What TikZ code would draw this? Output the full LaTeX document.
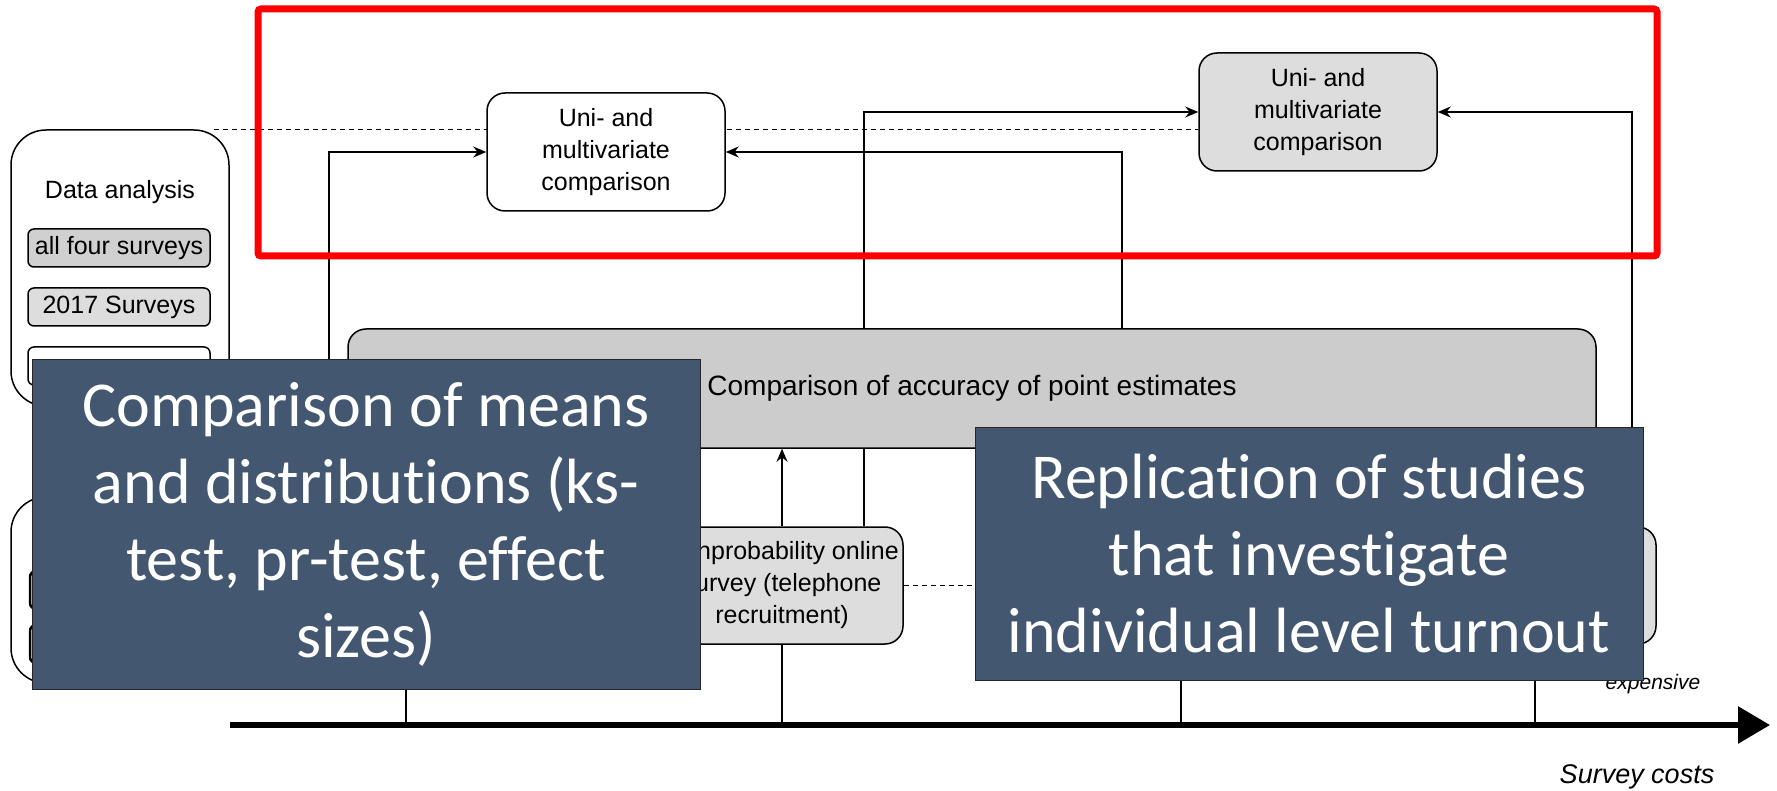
\documentclass[tikz,border=0pt]{standalone}
\usepackage{fontspec}
\setmainfont{Liberation Sans}
\newfontfamily\calibfont[Ligatures=NoCommon]{Carlito}
\usetikzlibrary{arrows.meta,backgrounds}

\definecolor{slate}{HTML}{435770}
\definecolor{boxgray}{HTML}{DDDDDD}
\definecolor{accgray}{HTML}{CCCCCC}
\definecolor{allgray}{HTML}{D0D0D0}

\begin{document}
\begin{tikzpicture}
    [x=1pt,y=-1pt,
     >={Stealth[length=13pt,width=11pt]},
     link/.style={line width=1.3pt},
     dlink/.style={line width=1.3pt,dash pattern=on 5pt off 4pt},
     box/.style={draw,line width=1.5pt,rounded corners=18pt,align=center,inner sep=0pt,
       minimum width=238pt,minimum height=118pt,font=\fontsize{25}{32}\selectfont},
     panel/.style={draw,line width=1.5pt,rounded corners=35pt,fill=white,inner sep=0pt,
       minimum width=218pt},
     tag/.style={draw,line width=1.5pt,rounded corners=6pt,inner sep=0pt,
       minimum width=182pt,minimum height=38pt,font=\fontsize{25}{30}\selectfont},
     overlay/.style={draw=black!85,line width=1pt,fill=slate,text=white,align=center,
       inner sep=0pt,minimum width=668pt,font=\calibfont\fontsize{64}{77}\selectfont}]
    \useasboundingbox (0,0) rectangle (1777,791);

    % left panels
    \node[panel,minimum height=276pt] (lbox) at (120,268) {};
    \node[font=\fontsize{25}{30}\selectfont] (dtitle) at (120,192) {Data analysis};
    \node[tag,fill=allgray] (tall) at (119,248) {all four surveys};
    \node[tag,fill=boxgray] (t2017) at (119,307) {2017 Surveys};
    \node[tag,fill=white] (tthird) at (119,366) {};
    \node[panel,minimum height=186pt] (lbox2) at (120,590) {};
    \node[tag,fill=white,line width=2.5pt] (tfour) at (121,590) {};
    \node[tag,fill=white,line width=2.5pt] (tfive) at (121,644) {};

    % comparison boxes
    \node[box,fill=white] (uni1) at (606,152) {Uni- and\\multivariate\\comparison};
    \node[box,fill=boxgray] (uni2) at (1318,112) {Uni- and\\multivariate\\comparison};
    \node[box,fill=accgray,minimum width=1248pt,minimum height=119pt,
      font=\fontsize{28}{32}\selectfont] (acc) at (972,388.5)
      {Comparison of accuracy of point estimates};
    \node[box,fill=boxgray,minimum width=242pt,minimum height=117pt] (online) at (782,585.5)
      {Nonprobability online\\survey (telephone\\recruitment)};
    \node[box,fill=boxgray,minimum width=242pt,minimum height=117pt] (rbox) at (1535,585.5) {};

    % cost axis
    \coordinate (ax0) at (230,725);
    \coordinate (ax1) at (1770,725);
    \draw[line width=6pt,-{Triangle[length=32pt,width=36pt]}] (ax0) -- (ax1);
    \node[font=\itshape\fontsize{21}{24}\selectfont,anchor=base] (cheap) at (1653,689) {expensive};
    \node[font=\itshape\fontsize{27}{32}\selectfont,anchor=base] (costs) at (1637,783) {Survey costs};

    \coordinate (s1) at (406,600);
    \coordinate (s3) at (1181,600);
    \coordinate (c1) at (329,560);
    \coordinate (c2) at (1122,400);
    \coordinate (o2) at ([xshift=82pt]online.north);
    \coordinate (r2) at ([xshift=97pt]rbox.north);

    \begin{scope}[on background layer]
      \draw[dlink] ([xshift=-16pt]lbox.north east) -- (lbox.north -| uni2.west);
      \draw[dlink] (online.east) -- (rbox.west);
      \draw[link,->] (c1) |- (uni1.west);
      \draw[link,->] (c2) |- (uni1.east);
      \draw[link,->] (o2) |- (uni2.west);
      \draw[link,->] (r2) |- (uni2.east);
      \draw[link,->] (online.north) -- (online.north |- acc.south);
      \draw[link] (s1) -- (s1 |- ax0);
      \draw[link] (online.south) -- (online.south |- ax0);
      \draw[link] (s3) -- (s3 |- ax0);
      \draw[link] (rbox.south) -- (rbox.south |- ax0);
    \end{scope}

    % red frame
    \draw[red,line width=7pt,rounded corners=3pt] (258,9) rectangle (1657,256);

    % overlays
    \node[overlay,minimum height=329pt] (means) at (366,524.5)
      {Comparison of means\\and distributions (ks-\\test, pr-test, effect\\sizes)};
    \node[overlay,minimum height=253pt] (turnout) at (1309,553.5)
      {Replication of studies\\that investigate\\individual level turnout};
\end{tikzpicture}
\end{document}
